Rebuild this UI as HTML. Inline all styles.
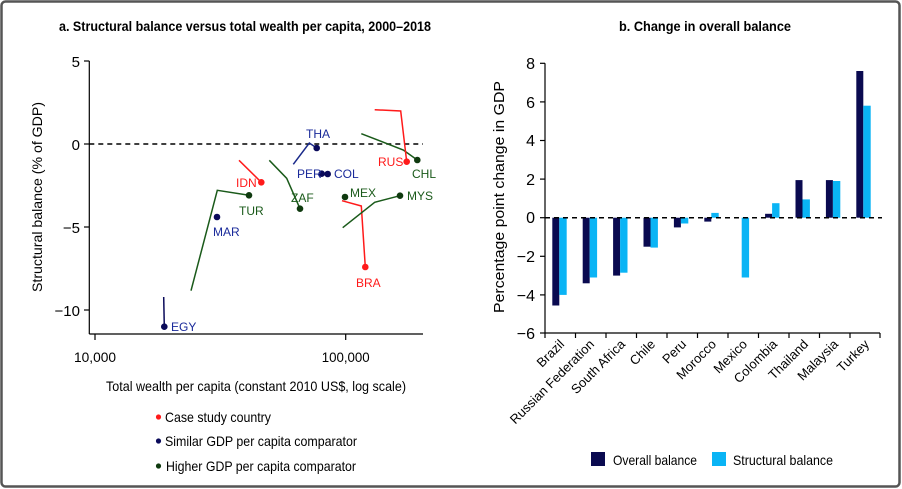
<!DOCTYPE html>
<html><head><meta charset="utf-8"><style>
html,body{margin:0;padding:0;background:#fff;}
svg{display:block;font-family:"Liberation Sans",Arial,sans-serif;}
</style></head><body>
<svg width="902" height="489" viewBox="0 0 902 489" xmlns="http://www.w3.org/2000/svg">
<rect x="1.5" y="1.5" width="898" height="485" rx="4" fill="#fff" stroke="#555" stroke-width="2.5"/>
<!-- Titles -->
<text x="245" y="31" text-anchor="middle" font-size="14" font-weight="bold" textLength="372" lengthAdjust="spacingAndGlyphs">a. Structural balance versus total wealth per capita, 2000–2018</text>
<text x="705" y="31" text-anchor="middle" font-size="14" font-weight="bold" textLength="172" lengthAdjust="spacingAndGlyphs">b. Change in overall balance</text>

<!-- LEFT CHART -->
<g stroke="#000" stroke-width="1.2" fill="none">
<line x1="89.3" y1="61" x2="89.3" y2="334"/>
<line x1="89.3" y1="334" x2="423" y2="334"/>
<line x1="84" y1="61" x2="89.3" y2="61"/>
<line x1="84" y1="144" x2="89.3" y2="144"/>
<line x1="84" y1="227" x2="89.3" y2="227"/>
<line x1="84" y1="310" x2="89.3" y2="310"/>
<line x1="95" y1="334" x2="95" y2="340"/>
<line x1="345.7" y1="334" x2="345.7" y2="340"/>
</g>
<line x1="89.3" y1="144" x2="423" y2="144" stroke="#000" stroke-width="1.5" stroke-dasharray="5,4"/>
<g font-size="15" text-anchor="end">
<text x="80" y="67">5</text>
<text x="80" y="150">0</text>
<text x="80" y="233">−5</text>
<text x="80" y="316">−10</text>
</g>
<g font-size="14" text-anchor="middle">
<text x="95" y="362" textLength="42" lengthAdjust="spacingAndGlyphs">10,000</text>
<text x="345.7" y="362" textLength="48" lengthAdjust="spacingAndGlyphs">100,000</text>
<text x="256" y="391" textLength="300" lengthAdjust="spacingAndGlyphs">Total wealth per capita (constant 2010 US$, log scale)</text>
</g>
<text transform="translate(42,197) rotate(-90)" text-anchor="middle" font-size="14" textLength="190" lengthAdjust="spacingAndGlyphs">Structural balance (% of GDP)</text>

<!-- series lines -->
<g fill="none" stroke-width="1.5">
<polyline points="163.7,297 164.3,326.7" stroke="#0a0a5a"/>
<polyline points="191,290.7 217.3,190.3 249,195.3" stroke="#1a5a1a"/>
<polyline points="239,160.3 261.3,182.3" stroke="#ff1a1a"/>
<polyline points="269.3,160.3 286.7,178.3 300,208.7" stroke="#1a5a1a"/>
<polyline points="293.3,164.3 309.3,143 316.7,148" stroke="#1a2a8a"/>
<polyline points="342,200.7 361.3,206 365.3,267" stroke="#ff1a1a"/>
<polyline points="342.7,227.7 374.7,202.3 400,195.7" stroke="#1a5a1a"/>
<polyline points="361.3,133.7 403.3,150 417.3,160" stroke="#1a5a1a"/>
<polyline points="374.7,109.7 400.7,111 406.7,161.7" stroke="#ff1a1a"/>
</g>
<g>
<circle cx="164.3" cy="326.7" r="3.3" fill="#0a0a5a"/>
<circle cx="249" cy="195.3" r="3.3" fill="#0f3a0f"/>
<circle cx="217" cy="217" r="3.3" fill="#0a0a5a"/>
<circle cx="261.3" cy="182.3" r="3.3" fill="#ff1a1a"/>
<circle cx="300" cy="208.7" r="3.3" fill="#0f3a0f"/>
<circle cx="316.7" cy="148" r="3.3" fill="#0a0a5a"/>
<circle cx="321.7" cy="173.7" r="3.3" fill="#0a0a5a"/>
<circle cx="327.7" cy="174" r="3.3" fill="#0a0a5a"/>
<circle cx="345" cy="197" r="3.3" fill="#0f3a0f"/>
<circle cx="365.3" cy="267" r="3.3" fill="#ff1a1a"/>
<circle cx="400" cy="195.7" r="3.3" fill="#0f3a0f"/>
<circle cx="417.3" cy="160" r="3.3" fill="#0f3a0f"/>
<circle cx="406.7" cy="161.7" r="3.3" fill="#ff1a1a"/>
</g>
<g font-size="12">
<text x="171" y="331" fill="#1a2a9a">EGY</text>
<text x="239" y="215" fill="#1a5a1a">TUR</text>
<text x="213" y="236" fill="#1a2a9a">MAR</text>
<text x="236" y="187" fill="#ff1a1a">IDN</text>
<text x="291" y="202" fill="#1a5a1a">ZAF</text>
<text x="306" y="138" fill="#1a2a9a">THA</text>
<text x="297" y="178" fill="#1a2a9a">PER</text>
<text x="334" y="178" fill="#1a2a9a">COL</text>
<text x="350" y="197" fill="#1a5a1a">MEX</text>
<text x="356" y="287" fill="#ff1a1a">BRA</text>
<text x="407" y="200" fill="#1a5a1a">MYS</text>
<text x="412" y="178" fill="#1a5a1a">CHL</text>
<text x="378" y="166" fill="#ff1a1a">RUS</text>
</g>
<!-- left legend -->
<circle cx="158.5" cy="417" r="2.6" fill="#ff1a1a"/>
<circle cx="158.5" cy="441" r="2.6" fill="#0a0a5a"/>
<circle cx="158.5" cy="466" r="2.6" fill="#0f3a0f"/>
<g font-size="14">
<text x="165" y="422" textLength="106" lengthAdjust="spacingAndGlyphs">Case study country</text>
<text x="165" y="446" textLength="192" lengthAdjust="spacingAndGlyphs">Similar GDP per capita comparator</text>
<text x="166" y="471" textLength="190" lengthAdjust="spacingAndGlyphs">Higher GDP per capita comparator</text>
</g>

<!-- RIGHT CHART -->
<g stroke="#000" stroke-width="1.2">
<line x1="545" y1="63.3" x2="545" y2="333"/>
<line x1="545" y1="333" x2="880" y2="333"/>
<line x1="540" y1="63.3" x2="545" y2="63.3"/>
<line x1="540" y1="101.9" x2="545" y2="101.9"/>
<line x1="540" y1="140.5" x2="545" y2="140.5"/>
<line x1="540" y1="179.1" x2="545" y2="179.1"/>
<line x1="540" y1="217.7" x2="545" y2="217.7"/>
<line x1="540" y1="256.3" x2="545" y2="256.3"/>
<line x1="540" y1="294.9" x2="545" y2="294.9"/>
<line x1="540" y1="333" x2="545" y2="333"/>
<g id="ticks">
<line x1="575.5" y1="333" x2="575.5" y2="338"/><line x1="606" y1="333" x2="606" y2="338"/>
<line x1="636.5" y1="333" x2="636.5" y2="338"/><line x1="667" y1="333" x2="667" y2="338"/>
<line x1="697.5" y1="333" x2="697.5" y2="338"/><line x1="728" y1="333" x2="728" y2="338"/>
<line x1="758.5" y1="333" x2="758.5" y2="338"/><line x1="789" y1="333" x2="789" y2="338"/>
<line x1="819.5" y1="333" x2="819.5" y2="338"/><line x1="850" y1="333" x2="850" y2="338"/>
<line x1="880" y1="333" x2="880" y2="338"/><line x1="545" y1="333" x2="545" y2="338"/>
</g>
</g>
<g font-size="16" text-anchor="end">
<text x="535" y="69">8</text>
<text x="535" y="108">6</text>
<text x="535" y="146">4</text>
<text x="535" y="185">2</text>
<text x="535" y="223">0</text>
<text x="535" y="262">−2</text>
<text x="535" y="301">−4</text>
<text x="535" y="339">−6</text>
</g>
<text transform="translate(504,197) rotate(-90)" text-anchor="middle" font-size="15" textLength="232" lengthAdjust="spacingAndGlyphs">Percentage point change in GDP</text>
<!-- bars: y0=217.7, 19.3/unit -->
<g>
<rect x="552.3" y="217.7" width="7" height="87.8" fill="#0a0a50"/><rect x="559.3" y="217.7" width="7.4" height="77.2" fill="#0ab4f5"/>
<rect x="582.7" y="217.7" width="7" height="65.6" fill="#0a0a50"/><rect x="589.7" y="217.7" width="7.4" height="59.8" fill="#0ab4f5"/>
<rect x="613.1" y="217.7" width="7" height="57.9" fill="#0a0a50"/><rect x="620.1" y="217.7" width="7.4" height="55" fill="#0ab4f5"/>
<rect x="643.5" y="217.7" width="7" height="29" fill="#0a0a50"/><rect x="650.5" y="217.7" width="7.4" height="29.9" fill="#0ab4f5"/>
<rect x="673.9" y="217.7" width="7" height="9.7" fill="#0a0a50"/><rect x="680.9" y="217.7" width="7.4" height="5.8" fill="#0ab4f5"/>
<rect x="704.3" y="217.7" width="7" height="3.9" fill="#0a0a50"/><rect x="711.3" y="212.9" width="7.4" height="4.8" fill="#0ab4f5"/>
<rect x="741.7" y="217.7" width="7.4" height="59.8" fill="#0ab4f5"/>
<rect x="765.1" y="213.8" width="7" height="3.9" fill="#0a0a50"/><rect x="772.1" y="203.2" width="7.4" height="14.5" fill="#0ab4f5"/>
<rect x="795.5" y="180.1" width="7" height="37.6" fill="#0a0a50"/><rect x="802.5" y="199.4" width="7.4" height="18.3" fill="#0ab4f5"/>
<rect x="825.9" y="180.1" width="7" height="37.6" fill="#0a0a50"/><rect x="832.9" y="181" width="7.4" height="36.7" fill="#0ab4f5"/>
<rect x="856.3" y="71" width="7" height="146.7" fill="#0a0a50"/><rect x="863.3" y="105.7" width="7.4" height="112" fill="#0ab4f5"/>
</g>
<line x1="545" y1="217.7" x2="882" y2="217.7" stroke="#000" stroke-width="1.5" stroke-dasharray="5,4"/>
<g font-size="13" text-anchor="end">
<text transform="translate(565,345) rotate(-45)">Brazil</text>
<text transform="translate(595,345) rotate(-45)">Russian Federation</text>
<text transform="translate(626,345) rotate(-45)">South Africa</text>
<text transform="translate(656,345) rotate(-45)">Chile</text>
<text transform="translate(687,345) rotate(-45)">Peru</text>
<text transform="translate(717,345) rotate(-45)">Morocco</text>
<text transform="translate(748,345) rotate(-45)">Mexico</text>
<text transform="translate(778,345) rotate(-45)">Colombia</text>
<text transform="translate(809,345) rotate(-45)">Thailand</text>
<text transform="translate(839,345) rotate(-45)">Malaysia</text>
<text transform="translate(870,345) rotate(-45)">Turkey</text>
</g>
<rect x="591" y="452" width="14" height="14" fill="#0a0a50"/>
<rect x="712" y="452" width="14" height="14" fill="#0ab4f5"/>
<g font-size="14">
<text x="613" y="465" textLength="84" lengthAdjust="spacingAndGlyphs">Overall balance</text>
<text x="733" y="465" textLength="100" lengthAdjust="spacingAndGlyphs">Structural balance</text>
</g>
</svg>
</body></html>
